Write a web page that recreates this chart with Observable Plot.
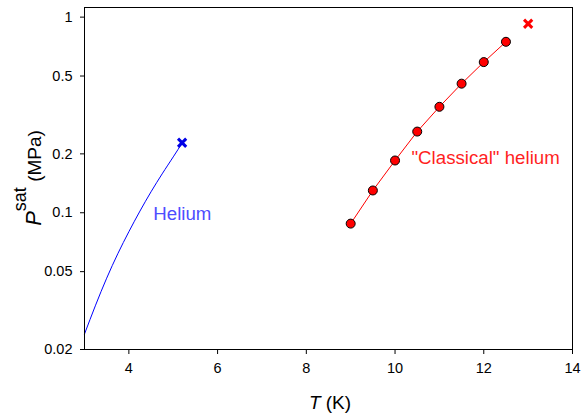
<!DOCTYPE html>
<html>
<head>
<meta charset="utf-8">
<script src="https://cdn.jsdelivr.net/npm/d3@7"></script>
<script src="https://cdn.jsdelivr.net/npm/@observablehq/plot@0.6"></script>
<style>
  html, body { margin: 0; padding: 0; background: #fff; }
  #chart svg { display: block; }
</style>
</head>
<body>
<div id="chart"></div>
<script>
// Helium saturated vapour pressure curve (T in K, P in MPa)
const heliumT = [3.0, 3.25, 3.5, 3.75, 4.0, 4.25, 4.5, 4.75, 5.0, 5.2];
const heliumP = [0.0240, 0.0337, 0.0463, 0.0617, 0.0800, 0.1020, 0.1280, 0.1580, 0.1930, 0.2270];
// Helium critical point marker
const heliumCritT = [5.2];
const heliumCritP = [0.228];
// "Classical" helium points
const classicalT = [9, 9.5, 10, 10.5, 11, 11.5, 12, 12.5];
const classicalP = [0.088, 0.130, 0.185, 0.260, 0.348, 0.457, 0.589, 0.748];
// "Classical" helium critical point marker
const classicalCritT = [13];
const classicalCritP = [0.925];
// Axis ticks
const xTicks = [4, 6, 8, 10, 12, 14];
const yTicks = [0.02, 0.05, 0.1, 0.2, 0.5, 1];
// Annotations
const labelText = ["Helium", "\"Classical\" helium"];
const labelT = [4.55, 10.37];
const labelP = [0.098, 0.19];
const labelColor = ["#4d4dff", "#ff1f1f"];

const helium = heliumT.map((t, i) => ({T: t, P: heliumP[i]}));
const heliumCrit = heliumCritT.map((t, i) => ({T: t, P: heliumCritP[i]}));
const classical = classicalT.map((t, i) => ({T: t, P: classicalP[i]}));
const classicalCrit = classicalCritT.map((t, i) => ({T: t, P: classicalCritP[i]}));
const labels = labelText.map((s, i) => ({text: s, T: labelT[i], P: labelP[i], color: labelColor[i]}));

const W = 582, H = 413;
const mL = 84, mR = 10, mT = 7, mB = 64;

const plot = Plot.plot({
  width: W,
  height: H,
  marginLeft: mL,
  marginRight: mR,
  marginTop: mT,
  marginBottom: mB,
  style: {fontFamily: "'Liberation Sans', Arial, sans-serif", fontSize: "14.5px", color: "#000", background: "#fff"},
  x: {domain: [3, 14]},
  y: {type: "log", domain: [0.02, 1.12]},
  marks: [
    Plot.axisX({ticks: xTicks, tickSize: 5, tickPadding: 8, label: null, tickFormat: d => String(d)}),
    Plot.axisY({ticks: yTicks, tickSize: 4, tickPadding: 8, label: null, tickFormat: d => String(d)}),
    Plot.line(helium, {x: "T", y: "P", stroke: "#0000ff", strokeWidth: 1, curve: "natural"}),
    Plot.dot(heliumCrit, {x: "T", y: "P", symbol: "times", r: 3.8, stroke: "#0000e6", strokeWidth: 3}),
    Plot.line(classical, {x: "T", y: "P", stroke: "#ff0000", strokeWidth: 1}),
    Plot.dot(classical, {x: "T", y: "P", r: 4.5, fill: "#ff0000", stroke: "#000", strokeWidth: 1}),
    Plot.dot(classicalCrit, {x: "T", y: "P", symbol: "times", r: 3.8, stroke: "#ff0000", strokeWidth: 3}),
    Plot.text(labels, {x: "T", y: "P", text: "text", fill: "color", textAnchor: "start", fontSize: 18.7}),
    Plot.frame({stroke: "#000", strokeWidth: 1})
  ]
});

document.getElementById("chart").appendChild(plot);

const svg = d3.select(plot);
// x axis label: T (K)
const xl = svg.append("text")
  .attr("x", (mL + (W - mR)) / 2 + 2)
  .attr("y", 409)
  .attr("text-anchor", "middle")
  .attr("font-size", 19)
  .attr("fill", "#000");
xl.append("tspan").attr("font-style", "italic").text("T");
xl.append("tspan").text(" (K)");

// y axis label: P^sat (MPa)
const yl = svg.append("text")
  .attr("transform", `translate(41,${(mT + (H - mB)) / 2}) rotate(-90)`)
  .attr("text-anchor", "middle")
  .attr("fill", "#000");
yl.append("tspan").attr("font-style", "italic").attr("font-size", 22).text("P");
yl.append("tspan").attr("font-size", 18).attr("dy", -15).text("sat");
yl.append("tspan").attr("font-size", 19).attr("dy", 15).text(" (MPa)");
</script>
</body>
</html>
